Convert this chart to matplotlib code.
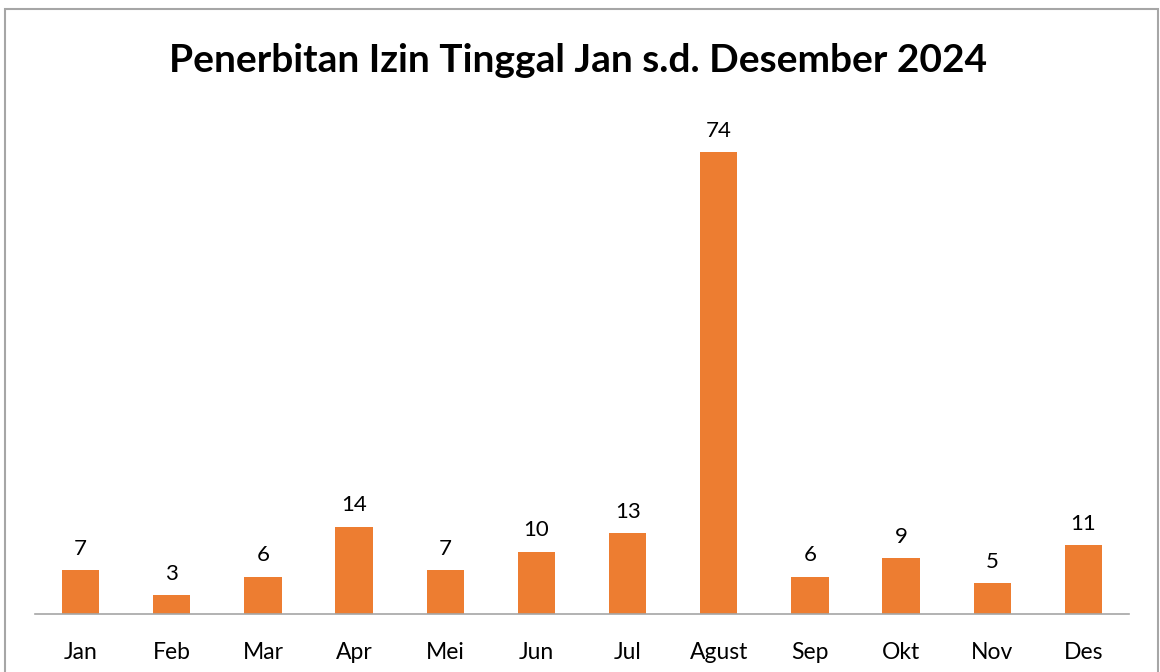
import matplotlib.pyplot as plt
from matplotlib.patches import Rectangle

plt.rcParams['font.family'] = ['Lato', 'DejaVu Sans']

bulan = ["Jan", "Feb", "Mar", "Apr", "Mei", "Jun", "Jul", "Agust", "Sep", "Okt", "Nov", "Des"]
jumlah = [7, 3, 6, 14, 7, 10, 13, 74, 6, 9, 5, 11]
judul = "Penerbitan Izin Tinggal Jan s.d. Desember 2024"

fig = plt.figure(figsize=(11.6, 6.72), dpi=100)
ax = fig.add_axes([35/1160, 58/672, 1094/1160, 514/672])

# bingkai luar
fig.patches.append(Rectangle((5/1160, -0.1), 1153/1160, 1.1 - 9/672, transform=fig.transFigure,
                             fill=False, edgecolor="#a6a6a6", linewidth=1.5))

x = range(len(bulan))
bars = ax.bar(x, jumlah, width=0.41, color="#ED7D31")
for i, v in enumerate(jumlah):
    ax.annotate(str(v), (i, v), xytext=(0, 8), textcoords="offset points",
                ha="center", va="bottom", fontsize=16)

ax.set_xlim(-0.5, len(bulan) - 0.5)
ax.set_ylim(0, 514 / (462 / 74))
ax.set_xticks(list(x))
ax.set_xticklabels(bulan, fontsize=16.5)
ax.tick_params(axis="x", length=0, pad=20)
ax.set_yticks([])
for s in ["top", "left", "right"]:
    ax.spines[s].set_visible(False)
ax.spines["bottom"].set_color("#a6a6a6")
ax.spines["bottom"].set_linewidth(1.2)

fig.text(578/1160, 1 - 61/672, judul, ha="center", va="center", fontsize=28, fontweight="bold")

fig.savefig("out.png", dpi=100)
